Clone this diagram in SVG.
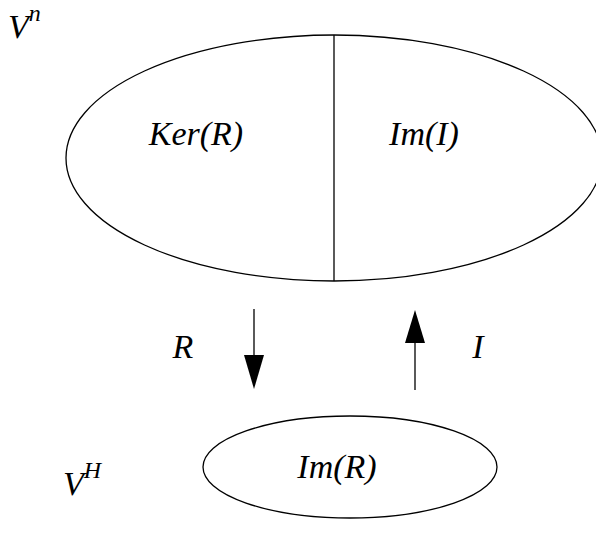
<svg xmlns="http://www.w3.org/2000/svg" width="596" height="550" viewBox="0 0 596 550">
<style>
.s{fill:none;stroke:#000;stroke-width:1.3}
.t{font-family:"Liberation Serif",serif;font-style:italic;font-size:34px;fill:#000}
.sup{font-size:24px}
</style>
<rect width="596" height="550" fill="#fff"/>
<g id="vn"><text class="t" x="8" y="38">V<tspan class="sup" dy="-17">n</tspan></text></g>
<g id="top"><ellipse class="s" cx="334" cy="158" rx="268" ry="123"/><line class="s" x1="334" y1="35" x2="334" y2="281"/><text class="t" x="196" y="145" text-anchor="middle">Ker(R)</text><text class="t" x="424" y="145" text-anchor="middle">Im(I)</text></g>
<g id="vh"><text class="t" x="63" y="495">V<tspan class="sup" dy="-17">H</tspan></text></g>
<g id="bottom"><ellipse class="s" cx="350" cy="467" rx="147" ry="51"/><text class="t" x="337" y="478" text-anchor="middle">Im(R)</text></g>
<g id="connectors">
<line class="s" x1="254" y1="309" x2="254" y2="356"/><polygon points="244,355 264,355 254,389" fill="#000"/>
<line class="s" x1="415" y1="343" x2="415" y2="390"/><polygon points="405,343 425,343 415,310" fill="#000"/>
<text class="t" x="183" y="358" text-anchor="middle">R</text>
<text class="t" x="478" y="358" text-anchor="middle">I</text>
</g>
</svg>
